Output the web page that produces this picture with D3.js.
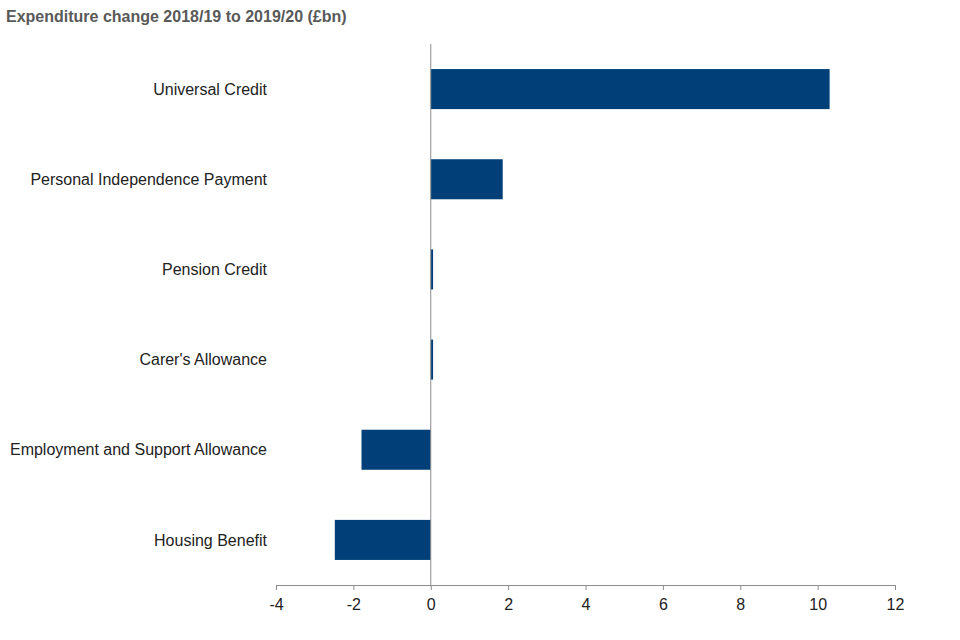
<!DOCTYPE html>
<html>
<head>
<meta charset="utf-8">
<script src="https://cdn.jsdelivr.net/npm/d3@7"></script>
<style>
  body { margin: 0; background: #fff; }
  text { font-family: "Liberation Sans", Arial, sans-serif; }
</style>
</head>
<body>
<div id="chart"></div>
<script>
var categories = ['Universal Credit', 'Personal Independence Payment', 'Pension Credit',
    "Carer's Allowance", 'Employment and Support Allowance', 'Housing Benefit'];
var values = [10.31, 1.86, 0.06, 0.06, -1.79, -2.48];
var tickValues = [-4, -2, 0, 2, 4, 6, 8, 10, 12];

function drawChart() {
    var width = 960, height = 640;
    var margin = {top: 44, right: 65, bottom: 55, left: 276};

    var svg = d3.select('#chart')
        .append('svg')
        .attr('width', width)
        .attr('height', height);

    var x = d3.scaleLinear()
        .domain([-4, 12])
        .range([margin.left, width - margin.right]);

    var y = d3.scaleBand()
        .domain(categories)
        .range([margin.top, height - margin.bottom])
        .paddingInner(0.556)
        .paddingOuter(0.278);

    // title
    svg.append('text')
        .attr('x', 6)
        .attr('y', 22)
        .style('font-size', '16px')
        .style('font-weight', 700)
        .style('fill', '#595959')
        .text('Expenditure change 2018/19 to 2019/20 (£bn)');

    // bars
    svg.append('g').selectAll('rect')
        .data(values)
        .enter()
        .append('rect')
        .attr('x', d => x(Math.min(0, d)))
        .attr('y', (d, i) => y(categories[i]))
        .attr('width', d => Math.abs(x(d) - x(0)))
        .attr('height', y.bandwidth())
        .attr('fill', '#003f78');

    // x axis
    var xAxis = svg.append('g')
        .attr('transform', `translate(0, ${height - margin.bottom})`)
        .call(d3.axisBottom(x).tickValues(tickValues).tickSize(5).tickSizeOuter(0).tickFormat(d => String(d)));
    xAxis.select('.domain').attr('stroke', '#8c8c8c');
    xAxis.selectAll('.tick line').attr('stroke', '#8c8c8c');
    xAxis.selectAll('.tick text')
        .attr('dy', '1.05em')
        .style('font-size', '16px')
        .style('fill', '#222')
        .style('font-family', '"Liberation Sans", Arial, sans-serif');

    // zero line
    svg.append('line')
        .attr('x1', x(0)).attr('x2', x(0))
        .attr('y1', margin.top).attr('y2', height - margin.bottom)
        .attr('stroke', '#8c8c8c')
        .attr('stroke-width', 1);

    // category labels
    svg.append('g').selectAll('text')
        .data(categories)
        .enter()
        .append('text')
        .attr('x', 267)
        .attr('y', d => y(d) + y.bandwidth() / 2)
        .attr('dy', '0.35em')
        .style('text-anchor', 'end')
        .style('font-size', '16px')
        .style('fill', '#222')
        .text(d => d);
}

document.addEventListener('DOMContentLoaded', drawChart);
</script>
</body>
</html>
